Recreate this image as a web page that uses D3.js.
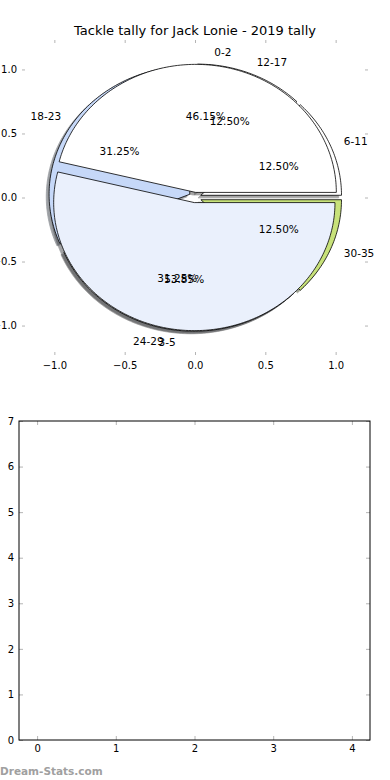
<!DOCTYPE html>
<html>
<head>
<meta charset="utf-8">
<script src="https://cdn.jsdelivr.net/npm/d3@7"></script>
<style>
  body { margin: 0; background: #fff; }
  text { font-family: "DejaVu Sans", sans-serif; }
</style>
</head>
<body>
<svg id="chart"></svg>
<script>
const width = 390;
const height = 780;
const svg = d3.select("svg#chart");
svg.attr("width", width).attr("height", height);

// Pie 1 (drawn on top): two tally groups
const topLabels = ["0-2", "3-5"];
const topValues = [6, 7];            // 46.15% / 53.85%
const topColors = ["#ffffff", "#eaf0fc"];

// Pie 2 (drawn underneath): five tally groups
const underLabels = ["6-11", "12-17", "18-23", "24-29", "30-35"];
const underValues = [2, 2, 5, 5, 2]; // 12.5 / 12.5 / 31.25 / 31.25 / 12.5 %
const underColors = ["#ffffff", "#ffffff", "#c6d8f8", "#e4e4e4", "#c8e27a"];

// tick labels
const pieTicks = [-1.0, -0.5, 0.0, 0.5, 1.0];
const barXTicks = [0, 1, 2, 3, 4];
const barYTicks = [0, 1, 2, 3, 4, 5, 6, 7];

const title = "Tackle tally for Jack Lonie - 2019 tally";
const watermark = "Dream-Stats.com";

// plot boxes
const pieBox = {left: 22, right: 368, top: 40, bottom: 355};
const barBox = {left: 19, right: 370, top: 421, bottom: 740};

const tickColor = "#b4b4b4";

// ---------- top panel: the pies ----------
const x = d3.scaleLinear().domain([-1.23, 1.23]).range([pieBox.left, pieBox.right]);
const y = d3.scaleLinear().domain([-1.23, 1.23]).range([pieBox.bottom, pieBox.top]);

svg.append("text")
  .attr("x", (pieBox.left + pieBox.right) / 2)
  .attr("y", 35)
  .attr("text-anchor", "middle")
  .style("font-size", "13px")
  .text(title);

function styleAxis(g) {
  g.select(".domain").remove();
  g.selectAll(".tick line").attr("stroke", tickColor);
  g.selectAll(".tick text").attr("fill", "#000").style("font-size", "10px")
    .style("font-family", "DejaVu Sans, sans-serif");
}

const fmt = d3.format(".1f");
svg.append("g").attr("transform", "translate(0," + pieBox.bottom + ")")
  .call(d3.axisBottom(x).tickValues(pieTicks).tickFormat(fmt).tickSize(-3).tickPadding(7))
  .call(styleAxis);
svg.append("g").attr("transform", "translate(0," + pieBox.top + ")")
  .call(d3.axisTop(x).tickValues(pieTicks).tickFormat("").tickSize(-3))
  .call(styleAxis);
svg.append("g").attr("transform", "translate(" + pieBox.left + ",0)")
  .call(d3.axisLeft(y).tickValues(pieTicks).tickFormat(fmt).tickSize(-3).tickPadding(5))
  .call(styleAxis);
svg.append("g").attr("transform", "translate(" + pieBox.right + ",0)")
  .call(d3.axisRight(y).tickValues(pieTicks).tickFormat("").tickSize(-3))
  .call(styleAxis);

// wedge geometry, matplotlib style: counter-clockwise from 3 o'clock
function buildWedges(labels, values, colors, explode) {
  const total = d3.sum(values);
  const arcs = d3.pie().sort(null).startAngle(0).endAngle(2 * Math.PI)(values);
  return arcs.map((a, i) => {
    const mid = (a.startAngle + a.endAngle) / 2;
    const cx = explode * Math.cos(mid);
    const cy = explode * Math.sin(mid);
    const pts = [[cx, cy]];
    const n = Math.max(4, Math.ceil((a.endAngle - a.startAngle) / 0.02));
    for (let k = 0; k <= n; k++) {
      const t = a.startAngle + (a.endAngle - a.startAngle) * k / n;
      pts.push([cx + Math.cos(t), cy + Math.sin(t)]);
    }
    return {
      label: labels[i], color: colors[i], pct: 100 * a.value / total,
      mid: mid, cx: cx, cy: cy, pts: pts
    };
  });
}

const under = buildWedges(underLabels, underValues, underColors, 0.045);
const over = buildWedges(topLabels, topValues, topColors, 0.04);

const line = d3.line().x(d => x(d[0])).y(d => y(d[1]));
const shadowLine = d3.line().x(d => x(d[0] - 0.02)).y(d => y(d[1] - 0.02));

function shadowColor(c) {
  const r = d3.rgb(c);
  return d3.rgb(r.r * 0.3, r.g * 0.3, r.b * 0.3).toString();
}

const pieG = svg.append("g").attr("id", "pies");

// shadows sit beneath every wedge
pieG.append("g").selectAll("path")
  .data(under.concat(over))
  .enter().append("path")
  .attr("d", d => shadowLine(d.pts) + "Z")
  .attr("fill", d => shadowColor(d.color))
  .attr("stroke", d => shadowColor(d.color))
  .attr("stroke-width", 0.8)
  .attr("opacity", 0.5);

[under, over].forEach(wedges => {
  pieG.append("g").selectAll("path")
    .data(wedges)
    .enter().append("path")
    .attr("d", d => line(d.pts) + "Z")
    .attr("fill", d => d.color)
    .attr("stroke", "#000")
    .attr("stroke-width", 0.8)
    .attr("stroke-linejoin", "round");
});

const textG = svg.append("g").attr("id", "pie-text").style("font-size", "10.5px");
[under, over].forEach(wedges => {
  wedges.forEach(d => {
    const lx = d.cx + 1.1 * Math.cos(d.mid);
    const ly = d.cy + 1.1 * Math.sin(d.mid);
    textG.append("text")
      .attr("x", x(lx)).attr("y", y(ly))
      .attr("dy", "0.35em")
      .attr("text-anchor", lx > 0 ? "start" : "end")
      .text(d.label);
    textG.append("text")
      .attr("x", x(d.cx + 0.6 * Math.cos(d.mid)))
      .attr("y", y(d.cy + 0.6 * Math.sin(d.mid)))
      .attr("dy", "0.35em")
      .attr("text-anchor", "middle")
      .text(d.pct.toFixed(2) + "%");
  });
});

// ---------- bottom panel: empty axes ----------
const bx = d3.scaleLinear().domain([-0.23, 4.23]).range([barBox.left, barBox.right]);
const by = d3.scaleLinear().domain([0, 7]).range([barBox.bottom, barBox.top]);

svg.append("g").attr("transform", "translate(0," + barBox.bottom + ")")
  .call(d3.axisBottom(bx).tickValues(barXTicks).tickFormat(d3.format("d")).tickSize(-4).tickPadding(5))
  .call(styleAxis);
svg.append("g").attr("transform", "translate(0," + barBox.top + ")")
  .call(d3.axisTop(bx).tickValues(barXTicks).tickFormat("").tickSize(-4))
  .call(styleAxis);
svg.append("g").attr("transform", "translate(" + barBox.left + ",0)")
  .call(d3.axisLeft(by).tickValues(barYTicks).tickFormat(d3.format("d")).tickSize(-4).tickPadding(5))
  .call(styleAxis);
svg.append("g").attr("transform", "translate(" + barBox.right + ",0)")
  .call(d3.axisRight(by).tickValues(barYTicks).tickFormat("").tickSize(-4))
  .call(styleAxis);

svg.append("rect")
  .attr("x", barBox.left).attr("y", barBox.top)
  .attr("width", barBox.right - barBox.left)
  .attr("height", barBox.bottom - barBox.top)
  .attr("fill", "none")
  .attr("stroke", "#000")
  .attr("stroke-width", 1);

svg.append("text")
  .attr("x", 0).attr("y", 775)
  .attr("fill", "#a0a0a0")
  .style("font-size", "10.5px")
  .style("font-weight", "bold")
  .text(watermark);
</script>
</body>
</html>
